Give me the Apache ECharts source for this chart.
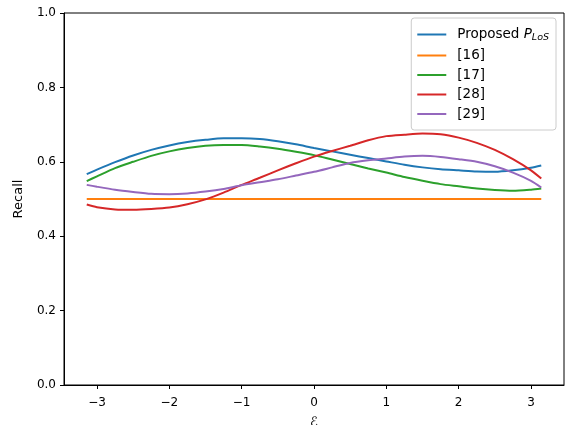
<!DOCTYPE html>
<html>
<head>
<meta charset="utf-8">
<script src="https://cdn.jsdelivr.net/npm/echarts@6/dist/echarts.min.js"></script>
<style>
  html, body { margin: 0; padding: 0; background: #fff; }
  #chart { width: 565px; height: 425px; }
</style>
</head>
<body>
<div id="chart"></div>
<script>
// Sample positions of the error parameter, from -pi to pi in steps of 0.25
const xValues = [-3.1416, -3, -2.75, -2.5, -2.25, -2, -1.75, -1.5, -1.25, -1, -0.75, -0.5, -0.25,
                 0, 0.25, 0.5, 0.75, 1, 1.25, 1.5, 1.75, 2, 2.25, 2.5, 2.75, 3, 3.1416];

// Recall of each method at those positions
const proposed = [0.567, 0.579, 0.599, 0.617, 0.632, 0.644, 0.653, 0.659, 0.663, 0.663, 0.661, 0.655, 0.647,
                  0.637, 0.628, 0.619, 0.610, 0.601, 0.592, 0.585, 0.580, 0.577, 0.574, 0.573, 0.577, 0.584, 0.590];
const ref16    = [0.500, 0.500, 0.500, 0.500, 0.500, 0.500, 0.500, 0.500, 0.500, 0.500, 0.500, 0.500, 0.500,
                  0.500, 0.500, 0.500, 0.500, 0.500, 0.500, 0.500, 0.500, 0.500, 0.500, 0.500, 0.500, 0.500, 0.500];
const ref17    = [0.548, 0.561, 0.583, 0.600, 0.616, 0.628, 0.637, 0.643, 0.645, 0.645, 0.641, 0.635, 0.627,
                  0.618, 0.606, 0.594, 0.582, 0.571, 0.559, 0.549, 0.540, 0.534, 0.528, 0.524, 0.522, 0.525, 0.528];
const ref28    = [0.485, 0.478, 0.472, 0.471, 0.473, 0.477, 0.486, 0.499, 0.517, 0.538, 0.557, 0.577, 0.596,
                  0.614, 0.629, 0.643, 0.658, 0.669, 0.673, 0.676, 0.674, 0.665, 0.651, 0.632, 0.607, 0.577, 0.555];
const ref29    = [0.538, 0.533, 0.525, 0.519, 0.514, 0.513, 0.515, 0.520, 0.527, 0.537, 0.545, 0.553, 0.563,
                  0.573, 0.585, 0.597, 0.604, 0.609, 0.614, 0.616, 0.613, 0.607, 0.600, 0.588, 0.571, 0.549, 0.531];

const seriesNames = ['Proposed P_LoS', '[16]', '[17]', '[28]', '[29]'];
const seriesData = [proposed, ref16, ref17, ref28, ref29];
const colors = ['#1f77b4', '#ff7f0e', '#2ca02c', '#d62728', '#9467bd'];

const xTicks = [-3, -2, -1, 0, 1, 2, 3];
const yTicks = [0, 0.2, 0.4, 0.6, 0.8, 1.0];

const chart = echarts.init(document.getElementById('chart'), null, { renderer: 'canvas' });

const fontFamily = 'DejaVu Sans';

const series = seriesNames.map((name, i) => ({
  name: name,
  type: 'line',
  data: xValues.map((x, j) => [x, seriesData[i][j]]),
  smooth: 0.25,
  showSymbol: false,
  symbol: 'none',
  lineStyle: { width: 2, color: colors[i] },
  itemStyle: { color: colors[i] },
  z: 2 + i
}));

chart.setOption({
  backgroundColor: '#fff',
  animation: false,
  grid: {
    left: 64, right: 1, top: 13, bottom: 40,
    outerBoundsMode: 'none',
    containLabel: false,
    show: true, borderColor: '#000', borderWidth: 1, backgroundColor: 'transparent'
  },
  legend: {
    orient: 'vertical',
    right: 9,
    top: 18,
    icon: 'rect',
    itemWidth: 29,
    itemHeight: 2,
    itemGap: 5.5,
    padding: [8, 7, 9, 6],
    backgroundColor: 'rgba(255,255,255,0.8)',
    borderColor: '#cccccc',
    borderWidth: 1,
    borderRadius: 3,
    data: seriesNames,
    formatter: function (name) {
      return name === seriesNames[0] ? '{t|Proposed }{it|P}{sub|LoS}' : '{t|' + name + '}';
    },
    textStyle: {
      fontFamily: fontFamily,
      fontSize: 13.5,
      color: '#000',
      padding: [0, 0, 0, 6],
      rich: {
        t: { fontFamily: fontFamily, fontSize: 13.5, color: '#000', lineHeight: 14 },
        it: { fontFamily: fontFamily, fontSize: 13.5, fontStyle: 'italic', color: '#000', lineHeight: 14 },
        sub: { fontFamily: fontFamily, fontSize: 9.5, fontStyle: 'italic', color: '#000', lineHeight: 14, padding: [7, 0, 0, 0] }
      }
    }
  },
  xAxis: {
    type: 'value',
    min: -3.456,
    max: 3.456,
    name: 'ℰ',
    nameLocation: 'middle',
    nameGap: 31,
    nameTextStyle: { fontFamily: fontFamily, fontSize: 13, fontStyle: 'italic', color: '#000' },
    splitLine: { show: false },
    axisLine: { show: true, onZero: false, lineStyle: { color: '#000', width: 1 } },
    axisTick: { show: true, inside: false, length: 4, lineStyle: { color: '#000' }, customValues: xTicks },
    axisLabel: {
      show: true, margin: 12, color: '#000', fontFamily: fontFamily, fontSize: 12,
      customValues: xTicks,
      formatter: v => (v < 0 ? '\u2212' + Math.abs(v) : String(v))
    }
  },
  yAxis: {
    type: 'value',
    min: 0,
    max: 1,
    interval: 0.2,
    name: 'Recall',
    nameLocation: 'middle',
    nameGap: 39,
    nameRotate: 90,
    nameTextStyle: { fontFamily: fontFamily, fontSize: 13, color: '#000' },
    splitLine: { show: false },
    axisLine: { show: true, onZero: false, lineStyle: { color: '#000', width: 1 } },
    axisTick: { show: true, inside: false, length: 4, lineStyle: { color: '#000' }, customValues: yTicks },
    axisLabel: {
      show: true, margin: 8, color: '#000', fontFamily: fontFamily, fontSize: 12,
      customValues: yTicks,
      formatter: v => v.toFixed(1)
    }
  },
  series: series
});
</script>
</body>
</html>
